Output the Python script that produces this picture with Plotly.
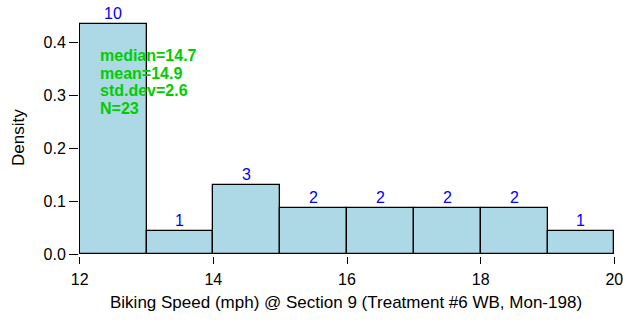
import plotly.graph_objects as go

# histogram bins (mph) and counts
bin_left = [12, 13, 14, 15, 16, 17, 18, 19]
bin_width = 1
counts = [10, 1, 3, 2, 2, 2, 2, 1]
n_obs = 23
stats_lines = ["median=14.7", "mean=14.9", "std.dev=2.6", "N=23"]
stats_y = [0.3755, 0.341, 0.308, 0.275]

density = [c / n_obs for c in counts]
centers = [b + bin_width / 2 for b in bin_left]

font = "Liberation Sans, Arial, sans-serif"

W, H = 623, 322
ML, MR, MT, MB = 79, 8, 13, 66
plot_w = W - ML - MR
plot_h = H - MT - MB

fig = go.Figure()
fig.add_trace(go.Bar(
    x=centers,
    y=density,
    width=bin_width,
    marker=dict(color="#ADD8E6", line=dict(color="black", width=1.3)),
    hoverinfo="skip",
))

# counts above the bars
for xc, d, c in zip(centers, density, counts):
    fig.add_annotation(
        x=xc, y=d, xref="x", yref="y", text=str(c), showarrow=False,
        xanchor="center", yanchor="middle", yshift=10.5,
        font=dict(color="#0000FF", size=16, family=font),
    )

for txt, yy in zip(stats_lines, stats_y):
    fig.add_annotation(
        x=12.27, y=yy, xref="x", yref="y", text="<b>" + txt + "</b>",
        showarrow=False, xanchor="left", yanchor="middle",
        font=dict(color="#00CD00", size=16, family=font),
    )

# axis titles (positions in figure pixels converted to paper coords)
fig.add_annotation(
    x=(346 - ML) / plot_w, y=(H - MB - 302) / plot_h, xref="paper", yref="paper",
    xanchor="center", yanchor="middle",
    text="Biking Speed (mph) @ Section 9 (Treatment #6 WB, Mon-198)",
    showarrow=False, font=dict(size=17, family=font),
)
fig.add_annotation(
    x=(18 - ML) / plot_w, y=(H - MB - 138) / plot_h, xref="paper", yref="paper",
    xanchor="center", yanchor="middle",
    text="Density", showarrow=False, textangle=-90,
    font=dict(size=17, family=font),
)

fig.update_layout(
    width=W, height=H,
    margin=dict(l=ML, r=MR, t=MT, b=MB),
    plot_bgcolor="white", paper_bgcolor="white",
    showlegend=False,
    bargap=0,
    font=dict(family=font, size=16, color="black"),
    xaxis=dict(
        range=[11.99, 20.01], tickvals=[12, 14, 16, 18, 20],
        ticks="outside", ticklen=7, tickwidth=1, tickcolor="black",
        showgrid=False, zeroline=False, showline=False, automargin=False,
        ticklabeloverflow="allow", ticklabelstandoff=2,
        tickfont=dict(size=16),
    ),
    yaxis=dict(
        range=[-0.003, 0.455], tickvals=[0, 0.1, 0.2, 0.3, 0.4], tickformat=".1f",
        ticks="outside", ticklen=9, tickwidth=1, tickcolor="black",
        showgrid=False, zeroline=False, showline=False, automargin=False,
        tickfont=dict(size=16),
    ),
)

# drop the default 8px page margin so the figure fills the window
fig.write_html("out.html", config={"displayModeBar": False},
               post_script="document.body.style.margin='0';document.body.style.overflow='hidden';")
